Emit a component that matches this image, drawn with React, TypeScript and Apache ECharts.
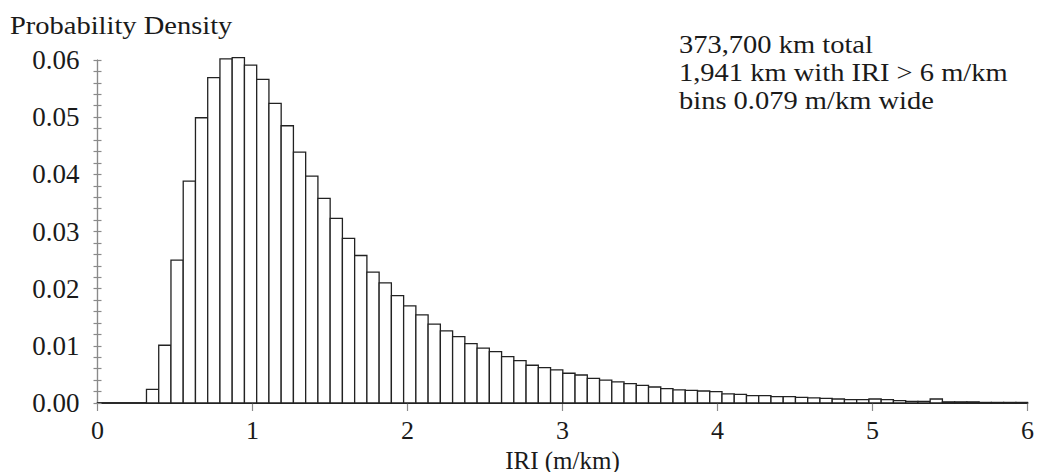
import React, { useEffect, useRef } from "react";
import * as echarts from "echarts";

// Histogram of roughness (IRI) over the network, bins of fixed width
const BIN_WIDTH = 0.079; // m/km
const FIRST_BIN = 4; // index of the first non-empty bin (bins start at 0)
const DENSITY = [
  0.0024, 0.0101, 0.025, 0.0388, 0.0499, 0.0569, 0.0602, 0.0604, 0.0591, 0.0566,
  0.0524, 0.0485, 0.0439, 0.0397, 0.0358, 0.0323, 0.0288, 0.0258, 0.0229, 0.021,
  0.0188, 0.017, 0.0154, 0.0138, 0.0126, 0.0116, 0.0104, 0.0096, 0.009, 0.0081,
  0.0074, 0.0066, 0.0062, 0.0058, 0.0052, 0.0049, 0.0043, 0.004, 0.0037, 0.0034,
  0.0031, 0.0028, 0.0025, 0.0023, 0.0022, 0.0021, 0.002, 0.0016, 0.0015, 0.0013,
  0.0013, 0.0011, 0.0011, 0.001, 0.0009, 0.0008, 0.0007, 0.0006, 0.0006, 0.0007,
  0.0006, 0.0004, 0.0003, 0.0003, 0.0007, 0.0002, 0.0002, 0.0002, 0.0001, 0.0001,
  0.0001, 0.0001,
];
const X_TICKS = [0, 1, 2, 3, 4, 5, 6];
const Y_TICKS = [0, 0.01, 0.02, 0.03, 0.04, 0.05, 0.06];
const NOTES = ["373,700 km total", "1,941 km with IRI > 6 m/km", "bins 0.079 m/km wide"];
const X_NAME = "IRI (m/km)";
const Y_NAME = "Probability Density";

const FONT = "'Liberation Serif', 'Times New Roman', 'DejaVu Serif', serif";
const TEXT = "#1a1a1a";
const GREY = "#8a8a8a";

export default function App() {
  const ref = useRef<HTMLDivElement>(null);

  useEffect(() => {
    if (!ref.current) return;
    const chart = echarts.init(ref.current, undefined, { renderer: "svg" });

    const xMax = X_TICKS[X_TICKS.length - 1];
    const bins = DENSITY.map((v, i) => {
      const k = FIRST_BIN + i;
      return [k * BIN_WIDTH, (k + 1) * BIN_WIDTH, v];
    });

    const yBase = {
      type: "value" as const,
      min: Y_TICKS[0],
      max: Y_TICKS[Y_TICKS.length - 1],
      interval: 0.01,
      position: "left" as const,
      splitLine: { show: false },
      minorSplitLine: { show: false },
      axisLine: { show: true, lineStyle: { color: GREY, width: 1.2 } },
      minorTick: { show: true, splitNumber: 5, length: 4, lineStyle: { color: GREY, width: 1.2 } },
    };

    chart.setOption({
      animation: false,
      backgroundColor: "#ffffff",
      grid: {
        left: 97.5,
        right: 9.5,
        top: 60,
        bottom: 69,
        containLabel: false,
        outerBoundsMode: "none",
      },
      xAxis: {
        type: "value",
        min: X_TICKS[0],
        max: xMax,
        interval: 1,
        name: X_NAME,
        nameLocation: "middle",
        nameGap: 46,
        nameMoveOverlap: false,
        nameTextStyle: { fontFamily: FONT, fontSize: 25, lineHeight: 22, color: TEXT, verticalAlign: "top" },
        splitLine: { show: false },
        axisLine: { show: true, onZero: false, lineStyle: { color: "#2a2a2a", width: 1.8 } },
        axisTick: { show: true, length: 8, lineStyle: { color: GREY, width: 1.2 } },
        axisLabel: { fontFamily: FONT, fontSize: 26, lineHeight: 20, color: TEXT, margin: 17 },
      },
      yAxis: [
        {
          ...yBase,
          axisTick: { show: true, inside: false, length: 4, lineStyle: { color: GREY, width: 1.2 } },
          axisLabel: {
            fontFamily: FONT,
            fontSize: 27,
            color: TEXT,
            margin: 18,
            formatter: (v: number) => v.toFixed(2),
          },
        },
        {
          ...yBase,
          axisTick: { show: true, inside: true, length: 4, lineStyle: { color: GREY, width: 1.2 } },
          axisLabel: { show: false },
        },
      ],
      graphic: [
        {
          type: "text",
          x: 10,
          y: 13,
          scaleX: 1.14,
          style: { text: Y_NAME, fontFamily: FONT, fontSize: 25, fill: TEXT, textVerticalAlign: "top" },
        },
        {
          type: "text",
          x: 679,
          y: 30,
          scaleX: 1.14,
          style: {
            text: NOTES.join("\n"),
            fontFamily: FONT,
            fontSize: 25,
            lineHeight: 28.4,
            fill: TEXT,
            textVerticalAlign: "top",
          },
        },
      ],
      series: [
        {
          type: "custom",
          xAxisIndex: 0,
          yAxisIndex: 0,
          clip: false,
          encode: { x: [0, 1], y: 2 },
          data: bins,
          renderItem: (_params: any, api: any) => {
            const p0 = api.coord([api.value(0), api.value(2)]);
            const p1 = api.coord([Math.min(api.value(1), xMax), 0]);
            return {
              type: "rect",
              shape: { x: p0[0], y: p0[1], width: p1[0] - p0[0], height: p1[1] - p0[1] },
              style: { fill: "#ffffff", stroke: "#222222", lineWidth: 1.3 },
            };
          },
        },
      ],
    });

    return () => chart.dispose();
  }, []);

  return (
    <div
      ref={ref}
      style={{ position: "absolute", left: 0, top: 0, width: 1037, height: 472, background: "#fff" }}
    />
  );
}
